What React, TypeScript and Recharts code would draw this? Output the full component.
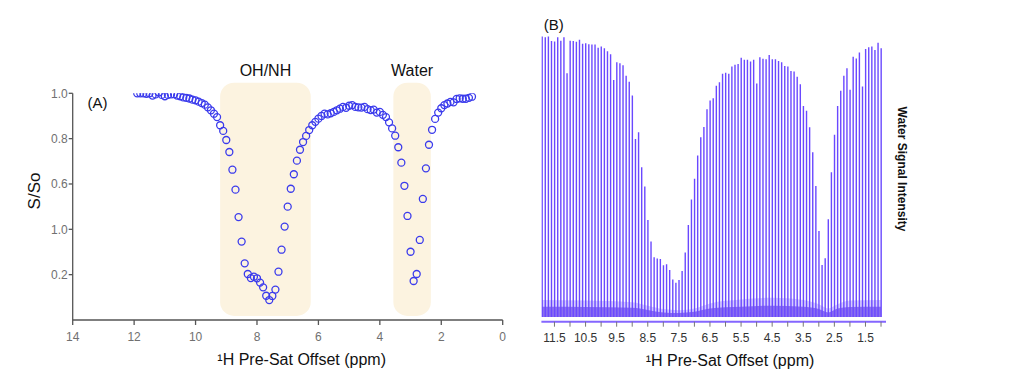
import React from 'react';
import { ScatterChart, ComposedChart, Scatter, Bar, Area, XAxis, YAxis, ReferenceArea } from 'recharts';

// Pre-saturation offsets (ppm) shared by both panels
const offsets = [
  11.9, 11.8, 11.7, 11.6, 11.5, 11.4, 11.3, 11.2, 11.1, 11.0,
  10.9, 10.8, 10.7, 10.6, 10.5, 10.4, 10.3, 10.2, 10.1, 10.0,
  9.9, 9.8, 9.7, 9.6, 9.5, 9.4, 9.3, 9.2, 9.1, 9.0,
  8.9, 8.8, 8.7, 8.6, 8.5, 8.4, 8.3, 8.2, 8.1, 8.0,
  7.9, 7.8, 7.7, 7.6, 7.5, 7.4, 7.3, 7.2, 7.1, 7.0,
  6.9, 6.8, 6.7, 6.6, 6.5, 6.4, 6.3, 6.2, 6.1, 6.0,
  5.9, 5.8, 5.7, 5.6, 5.5, 5.4, 5.3, 5.2, 5.1, 5.0,
  4.9, 4.8, 4.7, 4.6, 4.5, 4.4, 4.3, 4.2, 4.1, 4.0,
  3.9, 3.8, 3.7, 3.6, 3.5, 3.4, 3.3, 3.2, 3.1, 3.0,
  2.9, 2.8, 2.7, 2.6, 2.5, 2.4, 2.3, 2.2, 2.1, 2.0,
  1.9, 1.8, 1.7, 1.6, 1.5, 1.4, 1.3, 1.2, 1.1, 1.0,
];

// Panel A: S/So
const ratioSSo = [
  1.0, 1.0, 1.0, 0.998, 1.0, 0.99, 0.995, 1.003, 0.993, 0.987,
  0.993, 0.995, 0.996, 0.99, 0.987, 0.982, 0.98, 0.977, 0.972, 0.969,
  0.963, 0.957, 0.95, 0.938, 0.925, 0.91, 0.895, 0.859, 0.834, 0.794,
  0.741, 0.663, 0.575, 0.454, 0.346, 0.25, 0.203, 0.185, 0.191, 0.184,
  0.165, 0.144, 0.107, 0.088, 0.106, 0.134, 0.213, 0.31, 0.412, 0.5,
  0.579, 0.643, 0.703, 0.751, 0.785, 0.812, 0.838, 0.859, 0.874, 0.888,
  0.9, 0.91, 0.907, 0.912, 0.918, 0.925, 0.932, 0.94, 0.936, 0.945,
  0.948, 0.94, 0.938, 0.937, 0.94, 0.93, 0.926, 0.928, 0.915, 0.918,
  0.905, 0.895, 0.872, 0.845, 0.813, 0.762, 0.694, 0.592, 0.459, 0.301,
  0.172, 0.203, 0.353, 0.534, 0.669, 0.773, 0.839, 0.887, 0.915, 0.934,
  0.948, 0.955, 0.962, 0.96, 0.975, 0.978, 0.976, 0.976, 0.98, 0.985,
];

// Panel B: water signal intensity (relative)
const waterIntensity = [
  0.998, 0.995, 0.998, 0.982, 0.98, 0.995, 0.983, 0.995, 0.867, 0.983,
  0.982, 0.979, 0.986, 0.972, 0.974, 0.97, 0.969, 0.969, 0.958, 0.962,
  0.956, 0.945, 0.935, 0.843, 0.906, 0.903, 0.896, 0.858, 0.837, 0.788,
  0.633, 0.657, 0.533, 0.464, 0.345, 0.268, 0.212, 0.208, 0.206, 0.184,
  0.187, 0.167, 0.133, 0.122, 0.131, 0.163, 0.229, 0.327, 0.418, 0.492,
  0.574, 0.639, 0.676, 0.739, 0.77, 0.778, 0.823, 0.835, 0.865, 0.869,
  0.865, 0.891, 0.897, 0.9, 0.922, 0.915, 0.915, 0.909, 0.915, 0.831,
  0.924, 0.919, 0.917, 0.932, 0.917, 0.917, 0.911, 0.906, 0.893, 0.891,
  0.875, 0.873, 0.855, 0.828, 0.751, 0.734, 0.675, 0.586, 0.466, 0.306,
  0.185, 0.209, 0.348, 0.515, 0.648, 0.751, 0.805, 0.858, 0.885, 0.808,
  0.926, 0.92, 0.941, 0.82, 0.953, 0.96, 0.962, 0.95, 0.976, 0.956,
];

// Panel B: baseline hump of the spectra
const baseOffsets = [11.9, 10.5, 9.0, 8.5, 8.0, 7.5, 7.0, 6.5, 5.5, 4.5, 3.5, 3.0, 2.7, 2.4, 2.0, 1.0];
const baseHaze = [0.06, 0.058, 0.052, 0.04, 0.028, 0.024, 0.03, 0.048, 0.062, 0.068, 0.06, 0.045, 0.03, 0.045, 0.058, 0.06];
const baseDense = [0.036, 0.035, 0.033, 0.025, 0.016, 0.014, 0.018, 0.03, 0.036, 0.04, 0.036, 0.028, 0.016, 0.03, 0.035, 0.036];

// Shaded regions in panel A
const regionNames = ['OH/NH', 'Water'];
const regionFrom = [9.2, 3.56];
const regionTo = [6.25, 2.34];
const regionBottom = 0.018;
const regionTop = 1.047;

// Axis ticks
const aXTicks = [0, 2, 4, 6, 8, 10, 12, 14];
const aYTicks = [0.2, 0.4, 0.6, 0.8, 1.0];
const aYTickLabels = ['0.2', '1.0', '0.6', '0.8', '1.0'];
const bXTicks = [11.5, 11, 10.5, 10, 9.5, 9, 8.5, 8, 7.5, 7, 6.5, 6, 5.5, 5, 4.5, 4, 3.5, 3, 2.5, 2, 1.5, 1];
const bXTickLabels = ['11.5', '', '10.5', '', '9.5', '', '8.5', '', '7.5', '', '6.5', '', '5.5', '', '4.5', '', '3.5', '', '2.5', '', '1.5', ''];

const aData = offsets.map((x, i) => ({ x, y: ratioSSo[i] }));
const bData = offsets.map((x, i) => ({ x, h: waterIntensity[i] }));
const hazeData = baseOffsets.map((x, i) => ({ x, haze: baseHaze[i] }));
const denseData = baseOffsets.map((x, i) => ({ x, dense: baseDense[i] }));

const FONT = '"Liberation Sans", Arial, Helvetica, sans-serif';

const RoundedRect = (p: any) => (
  <rect x={p.x} y={p.y} width={p.width} height={p.height} rx={14} ry={14} fill="#fcf3e0" />
);

const OpenCircle = (p: any) => (
  <circle cx={p.cx} cy={p.cy} r={3.5} fill="none" stroke="#3b3bec" strokeWidth={1.3} />
);

const Txt = ({ x, y, size, children, rotate = 0, weight = 400, color = '#111' }: any) => (
  <div
    style={{
      position: 'absolute',
      left: x,
      top: y,
      transform: `translate(-50%, -50%) rotate(${rotate}deg)`,
      fontSize: size,
      fontWeight: weight,
      color,
      whiteSpace: 'nowrap',
      lineHeight: 1.15,
    }}
  >
    {children}
  </div>
);

export default function App() {
  return (
    <div style={{ position: 'absolute', left: 0, top: 0, width: 1024, height: 391, fontFamily: FONT, background: '#fff', overflow: 'hidden' }}>
      <div style={{ position: 'absolute', left: 0, top: 0 }}>
        <ScatterChart width={520} height={391} margin={{ top: 93.3, right: 17.3, bottom: 41, left: 0 }}>
          <XAxis
            dataKey="x"
            type="number"
            domain={[0, 14]}
            reversed
            allowDataOverflow
            ticks={aXTicks}
            interval={0}
            height={30}
            tickSize={5}
            tickMargin={7}
            axisLine={{ stroke: '#555', strokeWidth: 1.3 }}
            tickLine={{ stroke: '#555', strokeWidth: 1.3 }}
            tick={{ fill: '#707070', fontSize: 12 }}
          />
          <YAxis
            dataKey="y"
            type="number"
            domain={[0, 1]}
            allowDataOverflow
            ticks={aYTicks}
            interval={0}
            tickFormatter={(v: any, i: number) => aYTickLabels[i]}
            width={72.7}
            tickSize={4}
            tickMargin={1}
            axisLine={{ stroke: '#555', strokeWidth: 1.3 }}
            tickLine={{ stroke: '#555', strokeWidth: 1.3 }}
            tick={{ fill: '#707070', fontSize: 12 }}
          />
          {regionNames.map((name, i) => (
            <ReferenceArea
              key={name}
              x1={regionFrom[i]}
              x2={regionTo[i]}
              y1={regionBottom}
              y2={regionTop}
              ifOverflow="visible"
              shape={RoundedRect}
              label={{ value: name, position: 'top', offset: 7, fill: '#111', fontSize: 16 }}
            />
          ))}
          <Scatter data={aData} dataKey="y" shape={OpenCircle} isAnimationActive={false} />
        </ScatterChart>
      </div>

      <div style={{ position: 'absolute', left: 500, top: 0 }}>
        <ComposedChart width={524} height={391} data={bData} margin={{ top: 30, right: 138, bottom: 39.3, left: 41.4 }}>
          <XAxis
            dataKey="x"
            type="number"
            domain={[0.84, 11.92]}
            reversed
            allowDataOverflow
            ticks={bXTicks}
            interval={0}
            tickFormatter={(v: any, i: number) => bXTickLabels[i]}
            height={30}
            tickSize={5}
            tickMargin={6.5}
            axisLine={{ stroke: '#8466ff', strokeWidth: 2 }}
            tickLine={{ stroke: '#777', strokeWidth: 1 }}
            tick={{ fill: '#333', fontSize: 12 }}
          />
          <YAxis hide type="number" domain={[-0.017, 1.021]} allowDataOverflow />
          <Area data={hazeData} dataKey="haze" type="monotone" stroke="none" fill="#6a4cff" fillOpacity={0.28} isAnimationActive={false} />
          <Area data={denseData} dataKey="dense" type="monotone" stroke="none" fill="#3d12e0" fillOpacity={0.5} isAnimationActive={false} />
          <Bar dataKey="h" barSize={1.4} fill="#6a48ff" isAnimationActive={false} />
        </ComposedChart>
      </div>

      <Txt x={97.5} y={103} size={15}>(A)</Txt>
      <Txt x={35} y={190.5} size={17} rotate={-90}>S/So</Txt>
      <Txt x={301.7} y={360} size={16}>¹H Pre-Sat Offset (ppm)</Txt>
      <Txt x={553.7} y={25} size={15}>(B)</Txt>
      <Txt x={730} y={360.5} size={16}>¹H Pre-Sat Offset (ppm)</Txt>
      <Txt x={900.7} y={169} size={12} rotate={90} weight={700}>Water Signal Intensity</Txt>
    </div>
  );
}
